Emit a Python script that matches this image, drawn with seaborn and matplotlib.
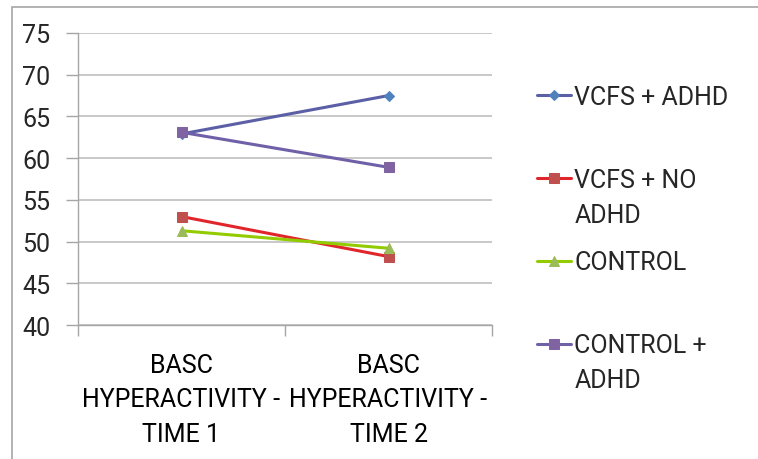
import pandas as pd
import matplotlib.pyplot as plt
import seaborn as sns
import numpy as np
from matplotlib.patches import Rectangle

categories = ['BASC\nHYPERACTIVITY -\nTIME 1', 'BASC\nHYPERACTIVITY -\nTIME 2']
vcfs_adhd = [62.9, 67.5]
vcfs_no_adhd = [53.0, 48.2]
control = [51.3, 49.2]
control_adhd = [63.1, 58.9]

series_names = ['VCFS + ADHD', 'VCFS + NO ADHD', 'CONTROL', 'CONTROL + ADHD']
series_values = [vcfs_adhd, vcfs_no_adhd, control, control_adhd]
line_colors = ['#5B5FA6', '#E0262B', '#92CC00', '#7060A8']
marker_colors = ['#4F81BD', '#C0504D', '#9BBB59', '#8064A2']
marker_shapes = ['D', 's', '^', 's']
marker_sizes = [5, 7, 7, 7]

sns.set_theme(style="white", rc={
    "axes.grid": False,
    "axes.facecolor": "white",
    "figure.facecolor": "white"
})
plt.rcParams['font.family'] = ['Roboto', 'DejaVu Sans']
fs = 18

x = np.arange(len(categories)) + 0.5
fig = plt.figure(figsize=(7.58, 4.6), dpi=100)
ax = fig.add_axes([78/758, 1-326/460, (492-78)/758, (326-34)/460])

gray = '#A6A6A6'
for name, vals, lc, mc, mk, ms in zip(series_names, series_values, line_colors,
                                      marker_colors, marker_shapes, marker_sizes):
    d = pd.DataFrame({'x': x, 'y': vals})
    sns.lineplot(data=d, x='x', y='y', ax=ax, color=lc, linewidth=2.2,
                 marker=mk, markersize=ms, markerfacecolor=mc,
                 markeredgecolor=mc, label=name)

ax.set_xlim(0, 2)
ax.set_ylim(40, 75)
ax.set_yticks(np.arange(40, 76, 5))
ax.yaxis.grid(True, color='#BFBFBF', linewidth=1.2)
ax.set_axisbelow(True)
ax.set_xticks(x)
ax.set_xticklabels(categories, fontsize=fs, linespacing=1.55)
ax.set_xticks([0, 1, 2], minor=True)
ax.tick_params(axis='x', which='major', length=0, pad=20, colors='black')
ax.tick_params(axis='x', which='minor', length=8, width=1, color=gray, direction='out', bottom=True)
ax.tick_params(axis='y', length=9, width=1, color=gray, direction='out', left=True,
               pad=11, labelsize=fs)
ax.set_xlabel('')
ax.set_ylabel('')
for s in ['top', 'right']:
    ax.spines[s].set_visible(False)
for s in ['left', 'bottom']:
    ax.spines[s].set_color(gray)
    ax.spines[s].set_linewidth(1)

# legend: first lines only, continuation lines placed under them
first_lines = ['VCFS + ADHD', 'VCFS + NO', 'CONTROL', 'CONTROL +']
extra_lines = ['', 'ADHD', '', 'ADHD']
h, _ = ax.get_legend_handles_labels()
ax.get_legend().remove()
leg = fig.legend(h, first_lines, loc='upper left', bbox_to_anchor=(537/758, 1-86/460),
                 frameon=False, fontsize=fs, handlelength=1.35, handletextpad=0.15,
                 labelspacing=2.35, borderaxespad=0, borderpad=0)
fig.canvas.draw()
for t, extra in zip(leg.get_texts(), extra_lines):
    if extra:
        ax.annotate(extra, xy=(0, 0), xycoords=t, xytext=(0, -11),
                    textcoords='offset pixels', va='top', ha='left', fontsize=fs)

fig.patches.append(Rectangle((12/758, -0.1), 1.2, 1-8/460 + 0.1, transform=fig.transFigure,
                             fill=False, edgecolor=gray, linewidth=1.2))

plt.savefig('out.png', dpi=100)
